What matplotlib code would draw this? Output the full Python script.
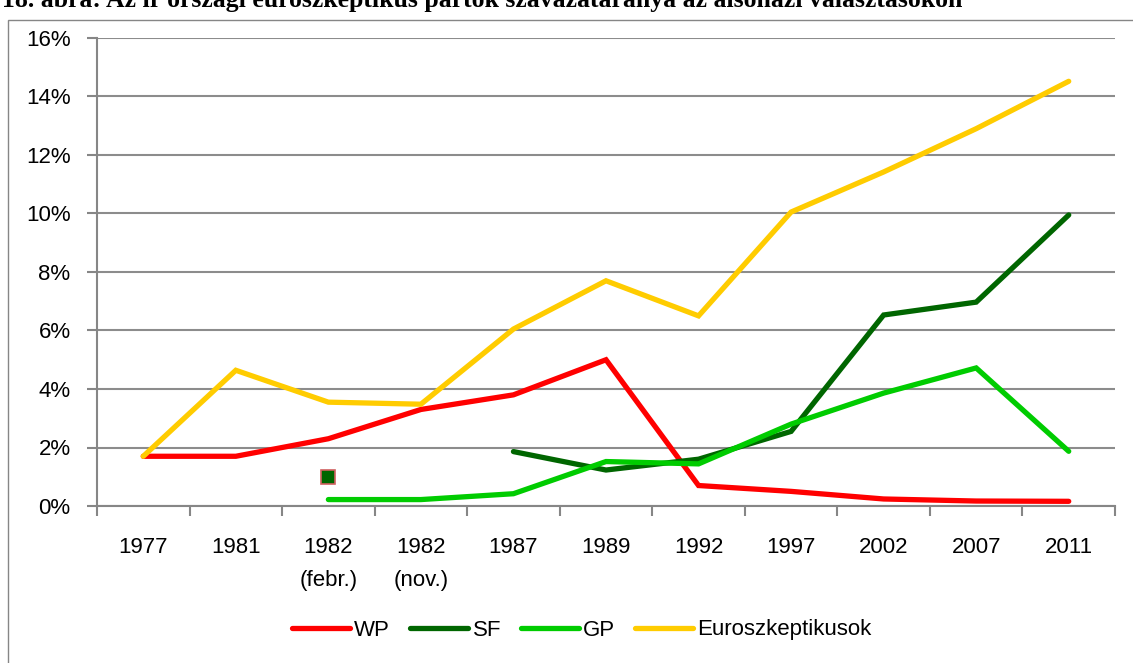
import numpy as np
import matplotlib.pyplot as plt
from matplotlib.patches import Rectangle

# kategóriák és adatok (%)
categories = ['1977', '1981', '1982\n(febr.)', '1982\n(nov.)', '1987', '1989',
              '1992', '1997', '2002', '2007', '2011']
wp = [1.7, 1.7, 2.3, 3.3, 3.8, 5.0, 0.7, 0.5, 0.24, 0.17, 0.16]
sf = [np.nan, np.nan, 1.0, np.nan, 1.86, 1.23, 1.6, 2.55, 6.53, 6.97, 9.95]
gp = [np.nan, np.nan, 0.22, 0.22, 0.42, 1.52, 1.44, 2.8, 3.86, 4.72, 1.87]
euro = [1.7, 4.64, 3.55, 3.48, 6.05, 7.7, 6.5, 10.05, 11.42, 12.9, 14.52]
series_names = ['WP', 'SF', 'GP', 'Euroszkeptikusok']
colors = ['#FF0000', '#006600', '#00CC00', '#FFCC00']

plt.rcParams['font.family'] = ['Liberation Sans', 'DejaVu Sans']

fig = plt.figure(figsize=(11.33, 6.63), dpi=100)
ax = fig.add_axes([97 / 1133, 1 - 506 / 663, (1115 - 97) / 1133, (506 - 38) / 663])

# külső keret
fig.patches.append(Rectangle((8 / 1133, -0.05), 1.1, 1 - 20 / 663 + 0.05,
                             transform=fig.transFigure, fill=False,
                             edgecolor='#868686', lw=1, zorder=0))

# cím (a képen felül levágva)
fig.text(2 / 1133, 1 - 1 / 663,
         '18. ábra: Az ír országi euroszkeptikus pártok szavazataránya az alsóházi választásokon',
         fontsize=18.5, fontweight='bold', family='Liberation Serif', va='center', ha='left')

x = np.arange(len(categories))
for vals, name, col in zip([wp, sf, gp, euro], series_names, colors):
    v = np.array(vals, dtype=float)
    ax.plot(x, v, color=col, lw=3.8, label=name, solid_capstyle='round',
            solid_joinstyle='miter', zorder=3)
    # egyedülálló pontok jelölővel
    for i in range(len(v)):
        if np.isnan(v[i]):
            continue
        left = i == 0 or np.isnan(v[i - 1])
        right = i == len(v) - 1 or np.isnan(v[i + 1])
        if left and right:
            ax.plot(x[i], v[i], marker='s', ms=10, mfc=col, mec='#D06060',
                    mew=1.2, zorder=4)

ax.set_xlim(-0.5, len(categories) - 0.5)
ax.set_ylim(0, 16)
ax.set_yticks(np.arange(0, 17, 2))
ax.set_yticklabels([f'{t}%' for t in range(0, 17, 2)], fontsize=16)
ax.set_xticks(x)
ax.set_xticklabels(categories, fontsize=16, linespacing=1.75)
ax.set_xticks(np.arange(-0.5, len(categories), 1), minor=True)
ax.tick_params(axis='x', which='major', length=0, pad=22)
ax.tick_params(axis='x', which='minor', length=7, color='#868686', width=1.5)
ax.tick_params(axis='y', length=7, color='#868686', width=1.5, pad=12)
ax.grid(axis='y', color='#8C8C8C', lw=1.5)
ax.set_axisbelow(True)
for s in ['top', 'right']:
    ax.spines[s].set_visible(False)
for s in ['left', 'bottom']:
    ax.spines[s].set_color('#868686')
    ax.spines[s].set_linewidth(1.5)

fig.legend(loc='center', bbox_to_anchor=(582 / 1133, 1 - 630 / 663), ncol=4,
           frameon=False, fontsize=16, handlelength=2.6, handletextpad=0.2,
           columnspacing=0.9)

plt.savefig('out.png', dpi=100)
